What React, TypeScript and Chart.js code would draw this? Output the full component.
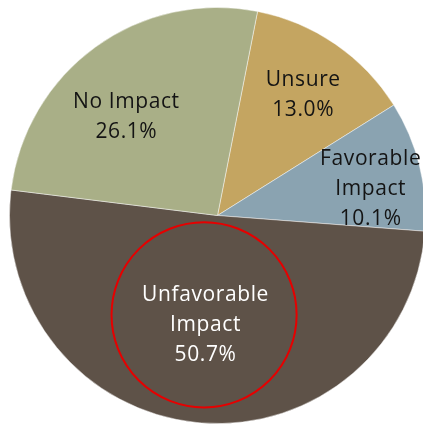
import React, { useEffect, useRef } from "react";
import { Chart, registerables } from "chart.js";

Chart.register(...registerables);

const categories = ["Unsure", "Favorable Impact", "Unfavorable Impact", "No Impact"];
const values = [13.0, 10.1, 50.7, 26.1];
const labelLines = [["Unsure", "13.0%"], ["Favorable", "Impact", "10.1%"], ["Unfavorable", "Impact", "50.7%"], ["No Impact", "26.1%"]];
const colors = ["#C4A561", "#8AA3B1", "#5E5248", "#A9AF87"];
const textColors = ["#141414", "#141414", "#FFFFFF", "#141414"];
// label placement: fraction of radius and angle offset (deg) from slice middle
const labelRadius = [0.716, 0.748, 0.525, 0.647];
const labelAngleOffset = [0.6, 3.8, 0.6, -6.7];
const highlightIndex = 2;

const labelPlugin = {
  id: "sliceLabels",
  afterDatasetsDraw(chart: any) {
    const ctx = chart.ctx;
    const meta = chart.getDatasetMeta(0);
    ctx.save();
    meta.data.forEach((arc: any, i: number) => {
      const p = arc.getProps(["x", "y", "startAngle", "endAngle", "outerRadius"], true);
      const mid = (p.startAngle + p.endAngle) / 2 + (labelAngleOffset[i] * Math.PI) / 180;
      const r = p.outerRadius * labelRadius[i];
      const cx = p.x + Math.cos(mid) * r;
      const cy = p.y + Math.sin(mid) * r;
      const lines = labelLines[i];
      const lh = 30;
      ctx.font = "21px 'Open Sans'";
      (ctx as any).letterSpacing = "0.6px";
      ctx.fillStyle = textColors[i];
      ctx.textAlign = "center";
      ctx.textBaseline = "middle";
      lines.forEach((t, k) => {
        ctx.fillText(t, cx, cy + 1 + (k - (lines.length - 1) / 2) * lh);
      });
      if (i === highlightIndex) {
        const m2 = (p.startAngle + p.endAngle) / 2 + (2.0 * Math.PI) / 180;
        const r2 = p.outerRadius * 0.482;
        ctx.beginPath();
        ctx.strokeStyle = "#E60000";
        ctx.lineWidth = 2;
        ctx.arc(p.x + Math.cos(m2) * r2, p.y + Math.sin(m2) * r2, p.outerRadius * 0.445, 0, Math.PI * 2);
        ctx.stroke();
      }
    });
    ctx.restore();
  },
};

export default function App() {
  const ref = useRef<HTMLCanvasElement>(null);
  useEffect(() => {
    document.body.style.margin = "0";
    document.body.style.overflow = "hidden";
    const chart = new Chart(ref.current!, {
      type: "pie",
      data: {
        labels: categories,
        datasets: [
          {
            data: values,
            backgroundColor: colors,
            borderColor: "rgba(255,255,255,0.45)",
            borderWidth: 1,
          },
        ],
      },
      options: {
        animation: false,
        responsive: false,
        rotation: 11.1,
        layout: { padding: 0 },
        plugins: { legend: { display: false }, tooltip: { enabled: false } },
      },
      plugins: [labelPlugin],
    });
    return () => chart.destroy();
  }, []);
  return (
    <div style={{ position: "fixed", left: 0, top: 0, width: 423, height: 425, overflow: "hidden", background: "#fff" }}>
      <canvas ref={ref} width={417} height={417} style={{ position: "absolute", left: 9, top: 7, width: 417, height: 417 }} />
    </div>
  );
}
